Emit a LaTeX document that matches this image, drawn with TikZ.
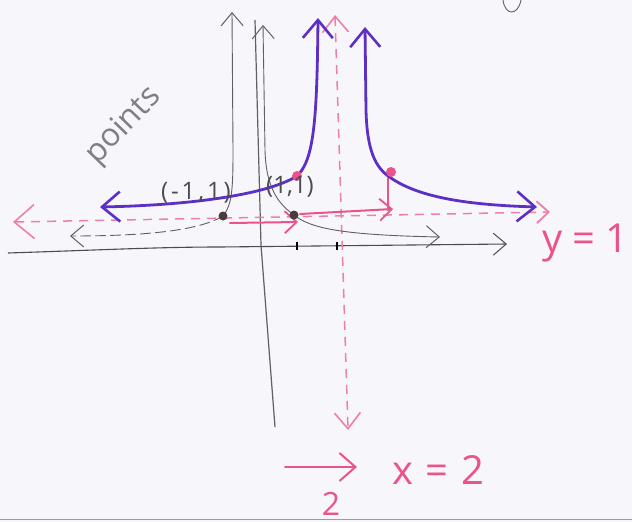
\documentclass[tikz,border=0pt]{standalone}
\usepackage{fontspec}
\setmainfont{Open Sans}
\usetikzlibrary{arrows.meta}
\definecolor{paper}{RGB}{247,247,251}
\definecolor{pencil}{RGB}{95,95,100}
\definecolor{purp}{RGB}{92,48,196}
\definecolor{pinkpen}{RGB}{236,82,142}
\definecolor{dotdark}{RGB}{75,60,60}
\definecolor{scanline}{RGB}{150,155,175}
\tikzset{
  barb/.tip={Straight Barb[length=13pt,width=22pt,line width=1pt]},
  bigbarb/.tip={Straight Barb[length=20pt,width=34pt,line width=1.6pt]},
  purpbarb/.tip={Straight Barb[length=18pt,width=30pt,line width=2.6pt]},
  pinkbarb/.tip={Straight Barb[length=12pt,width=22pt,line width=1.8pt]},
  graypen/.style={draw=pencil,line width=0.9pt,line cap=round},
  purplepen/.style={draw=purp,line width=2.8pt,line cap=round},
  pinksolid/.style={draw=pinkpen,line width=2pt,line cap=round},
  pinkdash/.style={draw=pinkpen!75,line width=1.5pt,dash pattern=on 9pt off 7pt},
  label/.style={text=pencil!80!black,inner sep=0pt,font=\fontsize{24}{24}\selectfont},
  pinklabel/.style={text=pinkpen,inner sep=0pt,font=\fontsize{40}{40}\selectfont},
}
\begin{document}
\begin{tikzpicture}[x=1pt,y=-1pt]
\fill[paper] (0,0) rectangle (632,522);
\useasboundingbox (0,0) rectangle (632,522);
% scan edge
\coordinate (sl) at (0,519); \coordinate (sr) at (632,519);
\draw[scanline,line width=1pt] (sl) -- (sr);
% partial letter at top
\coordinate (ta) at (503,0); \coordinate (tb) at (521,0);
\draw[graypen] (ta) .. controls (505,16) and (518,16) .. (tb);
% axes
\coordinate (xl) at (8,253); \coordinate (xm) at (220,247); \coordinate (xr) at (507,244);
\draw[draw=pencil!80!black,line width=1.1pt,-barb] (xl) .. controls (100,250) and (160,247) .. (xm) -- (xr);
\coordinate (yt) at (255,20); \coordinate (ym) at (261,245); \coordinate (yb) at (275,427);
\draw[draw=pencil,line width=1.2pt] (yt) -- (ym) -- (yb);
\coordinate (t1a) at (297,242); \coordinate (t1b) at (297,250);
\coordinate (t2a) at (337,242); \coordinate (t2b) at (337,250);
\draw[draw=black,line width=1.3pt] (t1a) -- (t1b) (t2a) -- (t2b);
% pink asymptotes
\coordinate (hl) at (13,222); \coordinate (hr) at (550,212);
\draw[pinkdash,{bigbarb}-{pinkbarb}] (hl) -- (hr);
\coordinate (vt) at (335,15); \coordinate (vb) at (348,430);
\draw[pinkdash,{Straight Barb[length=16pt,width=26pt,line width=1.6pt]}-{Straight Barb[length=16pt,width=26pt,line width=1.6pt]}] (vt) -- (vb);
% parent function 1/x^2 (gray)
\coordinate (gl) at (232,12); \coordinate (dA) at (223,216); \coordinate (glend) at (70,236);
\draw[graypen,barb-] (gl) -- (233,150) .. controls (233,190) and (232,205) .. (dA);
\draw[graypen,dashed,dash pattern=on 10pt off 5pt,-barb] (dA) .. controls (200,230) and (150,236) .. (glend);
\coordinate (gr) at (263,25); \coordinate (dB) at (294,215); \coordinate (grend) at (440,237);
\draw[graypen,barb-] (gr) -- (265,150) .. controls (266,190) and (280,205) .. (dB);
\draw[graypen,-barb] (dB) .. controls (310,228) and (340,235) .. (grend);
% pink shift arrows
\coordinate (s1a) at (230,223); \coordinate (s1b) at (298,222);
\draw[pinksolid,-pinkbarb] (s1a) -- (s1b);
\coordinate (s2a) at (300,214); \coordinate (s2b) at (393,209);
\draw[pinksolid,-pinkbarb] (s2a) -- (s2b);
\coordinate (s3a) at (388,210); \coordinate (s3b) at (388,178);
\draw[pinksolid] (s3a) -- (s3b);
% purple transformed graph
\coordinate (pl) at (100,207); \coordinate (pP) at (297,176); \coordinate (pt) at (318,18);
\draw[purplepen,purpbarb-purpbarb]
  (pl) .. controls (200,205) and (270,193) .. (pP) .. controls (314,160) and (317,120) .. (pt);
\coordinate (rt) at (365,27); \coordinate (rQ) at (391,178); \coordinate (rr) at (537,207);
\draw[purplepen,purpbarb-purpbarb]
  (rt) -- (366,110) .. controls (367,150) and (375,168) .. (rQ) .. controls (420,198) and (470,205) .. (rr);
% dots
\fill[dotdark] (dA) circle (4.5);
\fill[dotdark] (dB) circle (4.5);
\fill[pinkpen] (pP) circle (5);
\fill[pinkpen] (391,172) circle (5);
% labels
\node[label] (lA) at (196,193) {\addfontfeature{LetterSpace=12}(-1,1)};
\node[label] (lB) at (290,187) {(1,1)};
\node[text=pencil!80,inner sep=0pt,rotate=46,font=\fontsize{32}{32}\selectfont] (pts) at (124,126) {points};
\node[pinklabel,anchor=east] (y1) at (629,243) {y = 1};
\node[pinklabel,anchor=west] (x2) at (392,470) {\addfontfeature{LetterSpace=6}x = 2};
\coordinate (aa) at (285,467); \coordinate (ab) at (357,467);
\draw[pinksolid,-{Straight Barb[length=16pt,width=28pt,line width=2pt]}] (aa) -- (ab);
\node[text=pinkpen,inner sep=0pt,font=\fontsize{32}{32}\selectfont] (two) at (331,504) {2};
\end{tikzpicture}
\end{document}
